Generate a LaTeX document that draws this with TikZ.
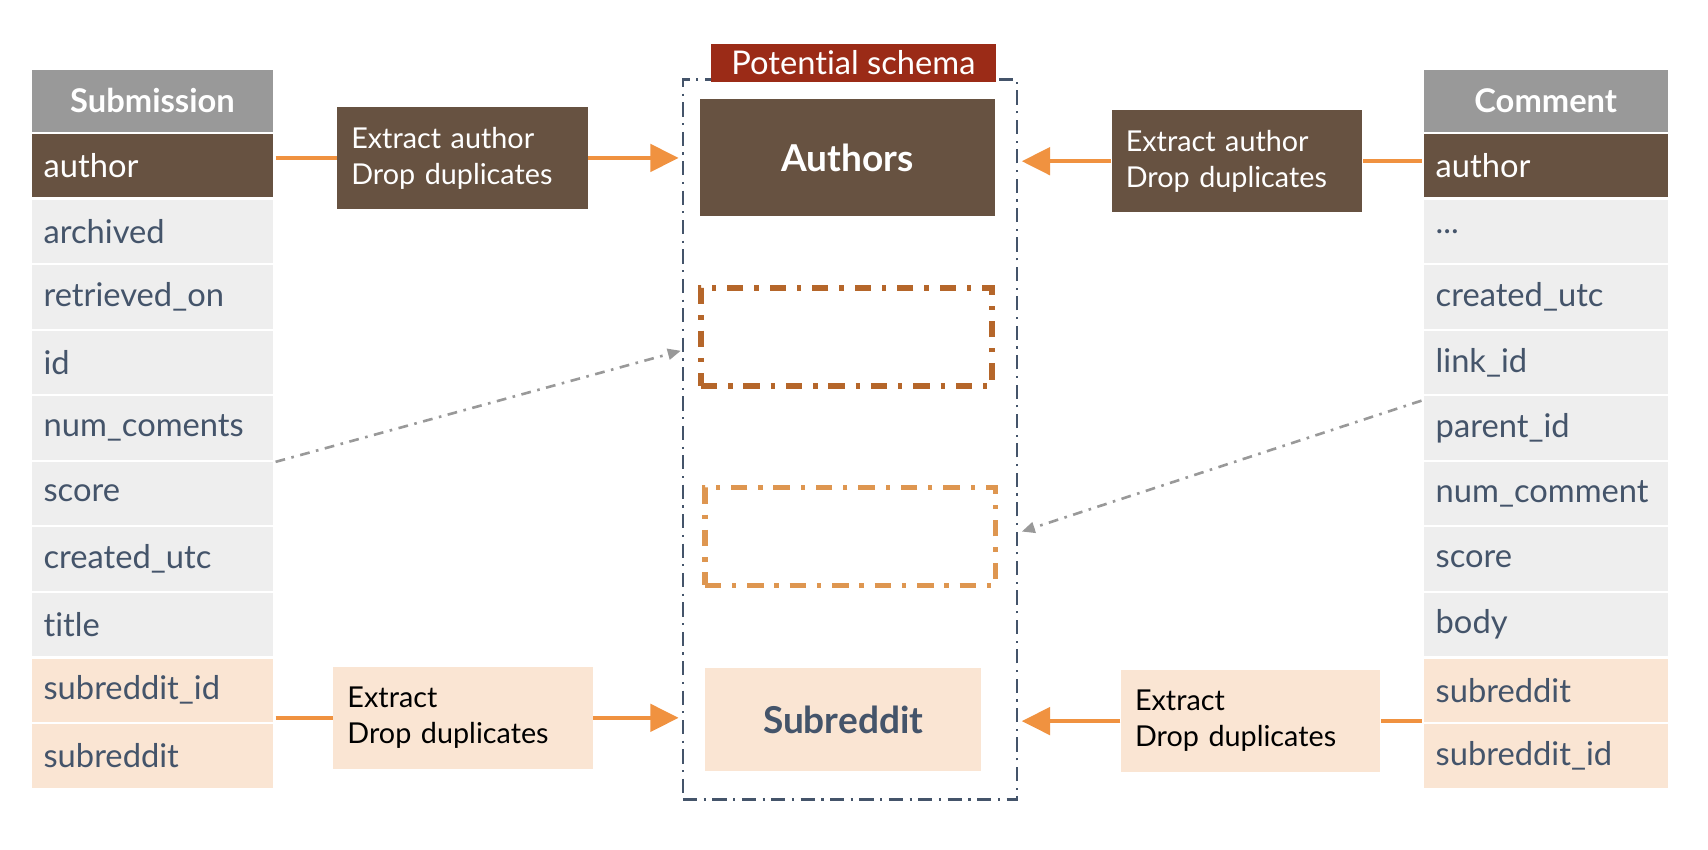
\documentclass[tikz,border=0pt]{standalone}
\usepackage{fontspec}
\setmainfont{Lato}[Ligatures=NoCommon]
\usepackage{xcolor}
\definecolor{headgray}{RGB}{153,153,153}
\definecolor{authorbrown}{RGB}{103,82,65}
\definecolor{rowgray}{RGB}{238,238,238}
\definecolor{peach}{RGB}{250,229,211}
\definecolor{slate}{RGB}{68,84,106}
\definecolor{floworange}{RGB}{240,146,64}
\definecolor{schemared}{RGB}{155,43,23}
\definecolor{darkamber}{RGB}{181,102,42}
\definecolor{lightamber}{RGB}{222,150,80}
\usepackage{tikz}
\usetikzlibrary{arrows.meta}
\newcommand{\rowstep}{60.2}
\newcommand{\widthfield}{100pt}
\tikzset{
    field/.style={anchor=north west, draw=white, line width=1pt, fill=rowgray, text=slate,
        minimum height=30.1pt, inner xsep=6pt, inner ysep=0pt, text width=\widthfield, align=left,
        font=\fontsize{15}{18}\selectfont},
    fieldkey/.style={field, fill=authorbrown, text=white},
    fieldsub/.style={field, fill=peach},
    tablehead/.style={field, fill=headgray, text=white, align=center, minimum height=29.5pt,
        font=\fontsize{15}{18}\selectfont\bfseries},
    proc/.style={inner xsep=6.5pt, inner ysep=0pt, minimum height=47pt, text width=102pt, align=left,
        font=\fontsize{13.2}{16.5}\selectfont},
    entity/.style={inner sep=0pt, minimum width=135pt, minimum height=53.5pt, font=\fontsize{17}{20}\selectfont\bfseries},
    slot/.style={inner sep=0pt, minimum width=133.5pt, minimum height=45pt, line width=2.5pt,
        dash pattern=on 7.5pt off 5pt on 2pt off 5pt},
    schemabox/.style={draw=slate, line width=1pt, inner sep=0pt, minimum width=153.5pt, minimum height=330.5pt,
        dash pattern=on 6.5pt off 3pt on 1pt off 3pt},
    schemalabel/.style={fill=schemared, text=white, inner sep=0pt, minimum width=130.5pt, minimum height=17.5pt,
        font=\fontsize{15}{18}\selectfont},
    flow/.style={floworange, line width=2pt},
    flowtip/.style={flow, -{Triangle[length=13pt, width=12.5pt]}, shorten >=1.5pt},
    hint/.style={gray!80, line width=1.2pt, dash pattern=on 4.5pt off 3pt on 1.2pt off 3pt,
        -{Triangle[length=6pt, width=5pt]}}
}

\begin{document}
\begin{tikzpicture}[x=0.5pt, y=-0.5pt]
    \useasboundingbox (0,0) rectangle (1568,780);

    \path (27,62) node[tablehead] (S-head) {Submission}
        ++(0,59) node[fieldkey] (S-author) {author}
        ++(0,\rowstep) node[field] (S-archived) {archived}
        ++(0,\rowstep) node[field] (S-retrieved) {retrieved\_on}
        ++(0,\rowstep) node[field] (S-id) {id}
        ++(0,\rowstep) node[field] (S-numcom) {num\_coments}
        ++(0,\rowstep) node[field] (S-score) {score}
        ++(0,\rowstep) node[field] (S-created) {created\_utc}
        ++(0,\rowstep) node[field] (S-title) {title}
        ++(0,\rowstep) node[fieldsub] (S-subid) {subreddit\_id}
        ++(0,\rowstep) node[fieldsub] (S-sub) {subreddit};

    \path (1305,62) node[tablehead, text width=101pt] (C-head) {Comment}
        ++(0,59) node[fieldkey, text width=101pt] (C-author) {author}
        ++(0,\rowstep) node[field, text width=101pt] (C-dots) {...}
        ++(0,\rowstep) node[field, text width=101pt] (C-created) {created\_utc}
        ++(0,\rowstep) node[field, text width=101pt] (C-link) {link\_id}
        ++(0,\rowstep) node[field, text width=101pt] (C-parent) {parent\_id}
        ++(0,\rowstep) node[field, text width=101pt] (C-numcom) {num\_comment}
        ++(0,\rowstep) node[field, text width=101pt] (C-score) {score}
        ++(0,\rowstep) node[field, text width=101pt] (C-body) {body}
        ++(0,\rowstep) node[fieldsub, text width=101pt] (C-sub) {subreddit}
        ++(0,\rowstep) node[fieldsub, text width=101pt] (C-subid) {subreddit\_id};

    \node[schemabox] (schema) at (780.5,403.5) {};
    \node[schemalabel] (schema-label) at (783.5,57.5) {Potential schema};
    \node[entity, fill=authorbrown, text=white] (authors) at (778,144.5) {Authors};
    \node[slot, draw=darkamber] (slot-1) at (777,309.5) {};
    \node[slot, draw=lightamber] (slot-2) at (780.5,492.5) {};
    \node[entity, fill=peach, text=slate, minimum width=127pt, minimum height=47.5pt] (subreddit) at (774,660.5) {Subreddit};

    \node[proc, fill=authorbrown, text=white] (XA-left) at (424.5,145) {Extract author\\Drop duplicates};
    \node[proc, fill=authorbrown, text=white] (XA-right) at (1135.5,148) {Extract author\\Drop duplicates};
    \node[proc, fill=peach, text=black, text width=106pt] (XS-left) at (425,659) {Extract\\Drop duplicates};
    \node[proc, fill=peach, text=black, text width=106pt] (XS-right) at (1148,662) {Extract\\Drop duplicates};

    \draw[flow] (S-author.east |- XA-left.west) -- (XA-left.west);
    \draw[flowtip] (XA-left.east) -- (XA-left.east -| schema.west);
    \draw[flow] (C-author.west |- XA-right.east) -- (XA-right.east);
    \draw[flowtip] (XA-right.west) -- (XA-right.west -| schema.east);
    \draw[flow] (S-subid.east |- XS-left.west) -- (XS-left.west);
    \draw[flowtip] (XS-left.east) -- (XS-left.east -| schema.west);
    \draw[flow] (C-sub.west |- XS-right.east) -- (XS-right.east);
    \draw[flowtip] (XS-right.west) -- (XS-right.west -| schema.east);

    \coordinate (hint-1) at (625,322);
    \coordinate (hint-2) at (938,488);
    \draw[hint] (S-numcom.south east) -- (hint-1);
    \draw[hint] ([yshift=-3pt]C-parent.north west) -- (hint-2);
\end{tikzpicture}
\end{document}
